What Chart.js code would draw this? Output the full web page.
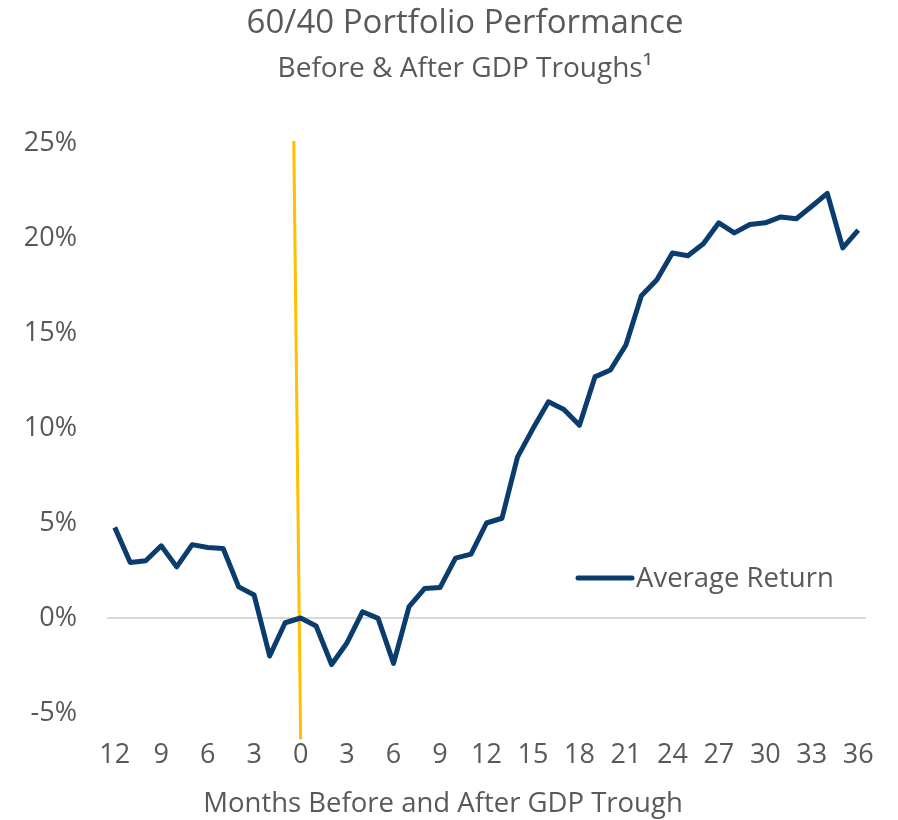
<!DOCTYPE html>
<html>
<head>
<meta charset="utf-8">
<script src="https://cdn.jsdelivr.net/npm/chart.js@4"></script>
<style>
  html, body { margin: 0; padding: 0; background: #fff; }
  #wrap { width: 898px; height: 820px; }
</style>
</head>
<body>
<div id="wrap"><canvas id="chart"></canvas></div>
<script>
// months relative to the GDP trough
const months = [-12, -11, -10, -9, -8, -7, -6, -5, -4, -3, -2, -1, 0,
  1, 2, 3, 4, 5, 6, 7, 8, 9, 10, 11, 12, 13, 14, 15, 16, 17, 18,
  19, 20, 21, 22, 23, 24, 25, 26, 27, 28, 29, 30, 31, 32, 33, 34, 35, 36];

// average 60/40 return, %
const avgReturn = [4.77, 2.92, 3.01, 3.80, 2.69, 3.86, 3.71, 3.66, 1.64, 1.21, -2.00, -0.25, 0.00,
  -0.42, -2.45, -1.30, 0.33, -0.02, -2.39, 0.60, 1.55, 1.60, 3.15, 3.36, 5.00, 5.25, 8.47, 9.97, 11.38, 10.97, 10.14,
  12.69, 13.05, 14.37, 16.96, 17.80, 19.21, 19.07, 19.70, 20.80, 20.27, 20.71, 20.80, 21.11, 21.01, 21.67, 22.35, 19.48, 20.41];

// trough marker (yellow line)
const troughX = [-0.44, 0];
const troughY = [25.1, -6.4];

const xTicks = [-12, -9, -6, -3, 0, 3, 6, 9, 12, 15, 18, 21, 24, 27, 30, 33, 36];
const xTickLabels = ['12', '9', '6', '3', '0', '3', '6', '9', '12', '15', '18', '21', '24', '27', '30', '33', '36'];

const FONT = "'Open Sans', sans-serif";
const GREY = '#595959';
const NAVY = '#0a3d6e';

// titles and x axis title, placed like the original (not centred on the plot)
const titles = {
    id: 'titles',
    afterDraw(chart) {
        const ctx = chart.ctx;
        ctx.save();
        ctx.fillStyle = GREY;
        ctx.textAlign = 'center';
        ctx.textBaseline = 'middle';
        ctx.font = '33px ' + FONT;
        ctx.fillText('60/40 Portfolio Performance', 465, 24);
        ctx.font = '28px ' + FONT;
        ctx.fillText('Before & After GDP Troughs\u00b9', 465, 69);
        ctx.font = '27.5px ' + FONT;
        ctx.fillText('Months Before and After GDP Trough', 443, 804);
        ctx.restore();
    }
};

// legend drawn inside the plot
const insideLegend = {
    id: 'insideLegend',
    afterDraw(chart) {
        const ctx = chart.ctx;
        const ds = chart.data.datasets[0];
        const x = 578, y = 578;
        ctx.save();
        ctx.strokeStyle = ds.borderColor;
        ctx.lineWidth = 5;
        ctx.lineCap = 'round';
        ctx.beginPath();
        ctx.moveTo(x, y);
        ctx.lineTo(x + 54, y);
        ctx.stroke();
        ctx.fillStyle = GREY;
        ctx.font = '27.5px ' + FONT;
        ctx.textBaseline = 'middle';
        ctx.fillText(ds.label, x + 58, y + 1);
        ctx.restore();
    }
};

new Chart(document.getElementById('chart'), {
    type: 'line',
    data: {
        datasets: [{
            label: 'Average Return',
            data: months.map((m, i) => ({ x: m, y: avgReturn[i] })),
            borderColor: NAVY,
            borderWidth: 5,
            borderJoinStyle: 'round',
            pointRadius: 0,
            tension: 0
        }, {
            label: 'Trough',
            data: troughX.map((m, i) => ({ x: m, y: troughY[i] })),
            borderColor: '#ffc000',
            borderWidth: 3,
            pointRadius: 0,
            clip: false
        }]
    },
    options: {
        responsive: true,
        maintainAspectRatio: false,
        animation: false,
        layout: { padding: { left: 0, right: 32, top: 143, bottom: 0 } },
        plugins: {
            legend: { display: false },
            tooltip: { enabled: false }
        },
        scales: {
            x: {
                type: 'linear',
                min: -12.5,
                max: 36.5,
                afterBuildTicks: axis => { axis.ticks = xTicks.map(v => ({ value: v })); },
                afterFit: axis => { axis.height = 107; },
                grid: { display: false },
                border: { display: false },
                ticks: {
                    color: GREY,
                    font: { family: FONT, size: 27 },
                    padding: 18,
                    autoSkip: false,
                    maxRotation: 0,
                    callback: v => xTickLabels[xTicks.indexOf(v)]
                }
            },
            y: {
                min: -5,
                max: 25,
                border: { display: false },
                afterFit: axis => { axis.width = 107; },
                grid: {
                    drawTicks: false,
                    lineWidth: 2,
                    color: c => c.tick && c.tick.value === 0 ? '#d9d9d9' : 'rgba(0,0,0,0)'
                },
                ticks: {
                    stepSize: 5,
                    color: GREY,
                    font: { family: FONT, size: 27 },
                    padding: 30,
                    callback: v => v + '%'
                }
            }
        }
    },
    plugins: [titles, insideLegend]
});
</script>
</body>
</html>
